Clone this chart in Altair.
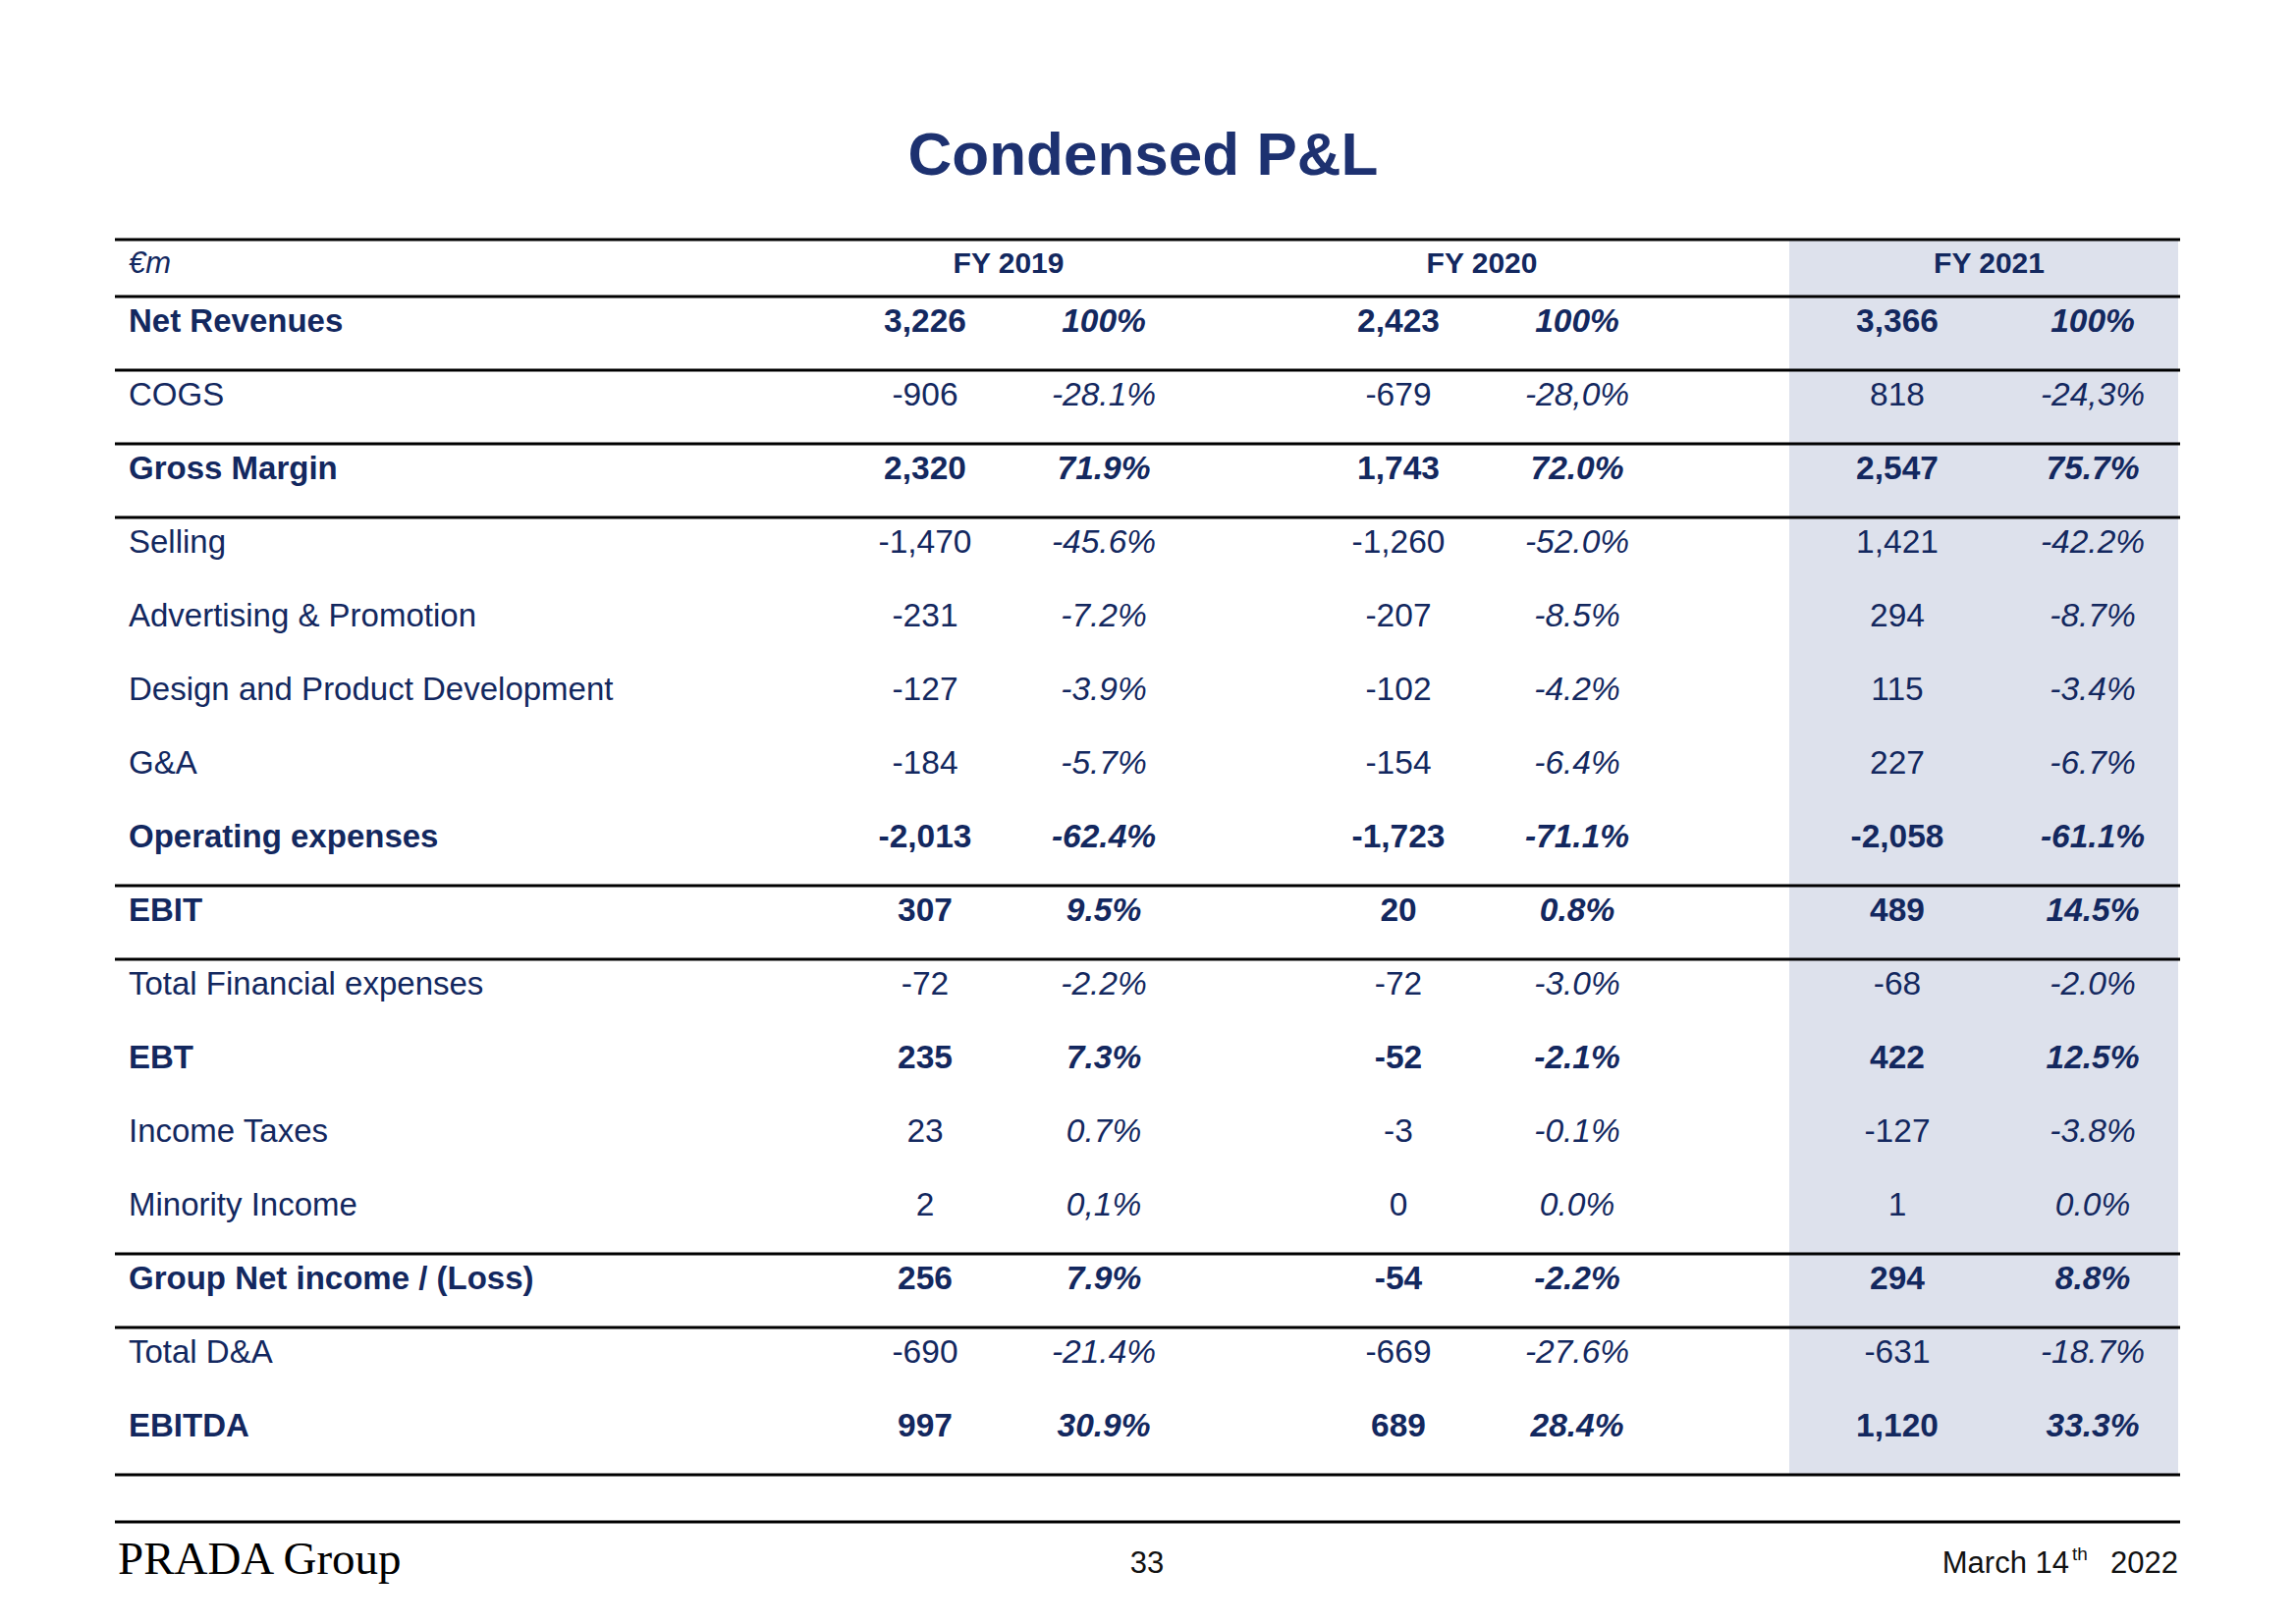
import altair as alt
import pandas as pd

TITLE = "Condensed P&L"
UNIT = "€m"
YEARS = ["FY 2019", "FY 2020", "FY 2021"]

labels = [
    "Net Revenues", "COGS", "Gross Margin", "Selling", "Advertising & Promotion",
    "Design and Product Development", "G&A", "Operating expenses", "EBIT",
    "Total Financial expenses", "EBT", "Income Taxes", "Minority Income",
    "Group Net income / (Loss)", "Total D&A", "EBITDA",
]
fy2019_val = ["3,226", "-906", "2,320", "-1,470", "-231", "-127", "-184", "-2,013",
              "307", "-72", "235", "23", "2", "256", "-690", "997"]
fy2019_pct = ["100%", "-28.1%", "71.9%", "-45.6%", "-7.2%", "-3.9%", "-5.7%", "-62.4%",
              "9.5%", "-2.2%", "7.3%", "0.7%", "0,1%", "7.9%", "-21.4%", "30.9%"]
fy2020_val = ["2,423", "-679", "1,743", "-1,260", "-207", "-102", "-154", "-1,723",
              "20", "-72", "-52", "-3", "0", "-54", "-669", "689"]
fy2020_pct = ["100%", "-28,0%", "72.0%", "-52.0%", "-8.5%", "-4.2%", "-6.4%", "-71.1%",
              "0.8%", "-3.0%", "-2.1%", "-0.1%", "0.0%", "-2.2%", "-27.6%", "28.4%"]
fy2021_val = ["3,366", "818", "2,547", "1,421", "294", "115", "227", "-2,058",
              "489", "-68", "422", "-127", "1", "294", "-631", "1,120"]
fy2021_pct = ["100%", "-24,3%", "75.7%", "-42.2%", "-8.7%", "-3.4%", "-6.7%", "-61.1%",
              "14.5%", "-2.0%", "12.5%", "-3.8%", "0.0%", "8.8%", "-18.7%", "33.3%"]

bold_rows = ["Net Revenues", "Gross Margin", "Operating expenses", "EBIT", "EBT",
             "Group Net income / (Loss)", "EBITDA"]
separator_after = ["Net Revenues", "COGS", "Gross Margin", "Operating expenses", "EBIT",
                   "Minority Income", "Group Net income / (Loss)", "EBITDA"]

FOOTER_LEFT = "PRADA Group"
PAGE_NO = "33"
DATE_MAIN = "March 14"
DATE_SUP = "th"
DATE_YEAR = "2022"

# ---- layout / style ----
W, H = 2320, 1630
NAVY = "#13285f"
TITLE_NAVY = "#1d3170"
SHADE = "#dde1ec"
SANS = "Liberation Sans"

years_data = [(fy2019_val, fy2019_pct), (fy2020_val, fy2020_pct), (fy2021_val, fy2021_pct)]
cells = []
for i, lab in enumerate(labels):
    r = i + 1.5
    b = lab in bold_rows
    cells.append(dict(r=r, c=0, t=lab, kind="label", bold=b))
    for j, (vals, pcts) in enumerate(years_data):
        cells.append(dict(r=r, c=1 + 2 * j, t=vals[i], kind="val", bold=b))
        cells.append(dict(r=r, c=2 + 2 * j, t=pcts[i], kind="pct", bold=b))
cells_df = pd.DataFrame(cells)

hdr_df = pd.DataFrame({"r": [0.5] * len(YEARS), "c": [1.5 + 2 * j for j in range(len(YEARS))], "t": YEARS})
unit_df = pd.DataFrame({"r": [0.5], "c": [0], "t": [UNIT]})

n_bound = len(labels) + 1
sep_df = pd.DataFrame({"b": [0, 1] + [labels.index(n) + 2 for n in separator_after]})
shade_df = pd.DataFrame({"y0": [0], "y1": [n_bound]})

xscale = alt.Scale(domain=[0, 1, 2, 3, 4, 5, 6],
                   range=[123, 934, 1116, 1416, 1598, 1924, 2123], nice=False, zero=False)
yscale = alt.Scale(domain=[0, 1, n_bound], range=[236, 294, 1494], nice=False, zero=False)

X = alt.X("c:Q", scale=xscale, axis=None)
Y = alt.Y("r:Q", scale=yscale, axis=None)

shade = alt.Chart(shade_df).mark_rect(color=SHADE).encode(
    x=alt.value(1814), x2=alt.value(2210),
    y=alt.Y("y0:Q", scale=yscale, axis=None), y2="y1:Q")

rules = alt.Chart(sep_df).mark_rule(color="#000000", strokeWidth=3).encode(
    x=alt.value(109), x2=alt.value(2212),
    y=alt.Y("b:Q", scale=yscale, axis=None))

foot_rule = alt.Chart(pd.DataFrame({"a": [0]})).mark_rule(color="#000000", strokeWidth=3).encode(
    x=alt.value(109), x2=alt.value(2212), y=alt.value(1542))


def cell_layer(expr, align, size, weight="normal", style="normal"):
    return alt.Chart(cells_df).transform_filter(expr).mark_text(
        font=SANS, fontSize=size, fontWeight=weight, fontStyle=style,
        color=NAVY, align=align, baseline="alphabetic", dy=-2).encode(x=X, y=Y, text="t:N")


lab_reg = cell_layer("datum.kind == 'label' && !datum.bold", "left", 33)
lab_bold = cell_layer("datum.kind == 'label' && datum.bold", "left", 33, "bold")
val_reg = cell_layer("datum.kind == 'val' && !datum.bold", "center", 33.5)
val_bold = cell_layer("datum.kind == 'val' && datum.bold", "center", 33.5, "bold")
pct_reg = cell_layer("datum.kind == 'pct' && !datum.bold", "center", 33.5, "normal", "italic")
pct_bold = cell_layer("datum.kind == 'pct' && datum.bold", "center", 33.5, "bold", "italic")

headers = alt.Chart(hdr_df).mark_text(
    font=SANS, fontSize=30, fontWeight="bold", color=NAVY, align="center",
    baseline="alphabetic", dy=5, dx=-6).encode(x=X, y=Y, text="t:N")
unit = alt.Chart(unit_df).mark_text(
    font=SANS, fontSize=31, fontStyle="italic", color=NAVY, align="left",
    baseline="alphabetic", dy=5).encode(x=X, y=Y, text="t:N")

title = alt.Chart(pd.DataFrame({"t": [TITLE]})).mark_text(
    font=SANS, fontSize=62, fontWeight="bold", color=TITLE_NAVY,
    align="center", baseline="alphabetic").encode(x=alt.value(1156), y=alt.value(170), text="t:N")

f_left = alt.Chart(pd.DataFrame({"t": [FOOTER_LEFT]})).mark_text(
    font="Liberation Serif", fontSize=47, color="#000000", align="left",
    baseline="alphabetic").encode(x=alt.value(112), y=alt.value(1595), text="t:N")
f_page = alt.Chart(pd.DataFrame({"t": [PAGE_NO]})).mark_text(
    font=SANS, fontSize=31, color="#111111", align="center",
    baseline="alphabetic").encode(x=alt.value(1160), y=alt.value(1594), text="t:N")
f_date = alt.Chart(pd.DataFrame({"t": [DATE_MAIN]})).mark_text(
    font=SANS, fontSize=31, color="#111111", align="right",
    baseline="alphabetic").encode(x=alt.value(2099), y=alt.value(1594), text="t:N")
f_sup = alt.Chart(pd.DataFrame({"t": [DATE_SUP]})).mark_text(
    font=SANS, fontSize=19, color="#111111", align="left",
    baseline="alphabetic").encode(x=alt.value(2102), y=alt.value(1581), text="t:N")
f_year = alt.Chart(pd.DataFrame({"t": [DATE_YEAR]})).mark_text(
    font=SANS, fontSize=31, color="#111111", align="right",
    baseline="alphabetic").encode(x=alt.value(2210), y=alt.value(1594), text="t:N")

chart = alt.layer(
    shade, rules, foot_rule,
    lab_reg, lab_bold, val_reg, val_bold, pct_reg, pct_bold,
    headers, unit, title, f_left, f_page, f_date, f_sup, f_year,
).properties(width=W, height=H, padding=0).configure_view(stroke=None)

chart.save("out.html", embed_options={"renderer": "svg", "actions": False})
